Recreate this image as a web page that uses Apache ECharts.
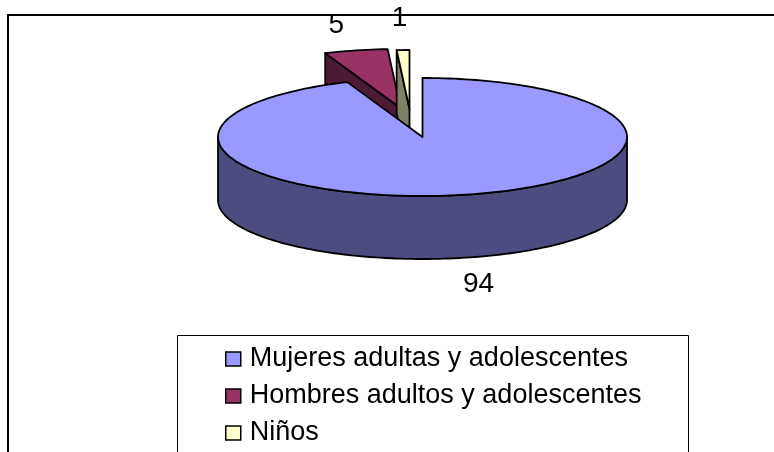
<!DOCTYPE html>
<html><head><meta charset="utf-8">
<script src="https://cdn.jsdelivr.net/npm/echarts@6/dist/echarts.min.js"></script>
<style>html,body{margin:0;padding:0;background:#fff}#c{width:774px;height:452px}</style>
</head><body><div id="c"></div>
<script>
// ---- data ----
const categories = ['Mujeres adultas y adolescentes', 'Hombres adultos y adolescentes', 'Niños'];
const values = [94, 5, 1];

// ---- style ----
const topColors = ['#9999FF', '#993366', '#FFFFCC'];
const sideColors = ['#4C4C80', '#4D1A33', '#808066'];
const explode = [[0, 0], [-22, -29], [-13, -28]];
const zOrder = [3, 1, 2];
const PIE = { cx: 422.5, cy: 137, rx: 204.5, ry: 59, depth: 63, labelGap: 32 };
const FONT = '"Liberation Sans", Arial, sans-serif';

const total = values.reduce((a, b) => a + b, 0);
function startAngle(i) { let s = 0; for (let k = 0; k < i; k++) s += values[k]; return s / total * 360; }
function pt(theta, ox, oy, dy) {
  const r = theta * Math.PI / 180;
  return [PIE.cx + ox + PIE.rx * Math.sin(r), PIE.cy + oy - PIE.ry * Math.cos(r) + (dy || 0)];
}
function arc(a, b, ox, oy, dy) {
  const n = Math.max(2, Math.ceil(Math.abs(b - a) / 1.5));
  const pts = [];
  for (let i = 0; i <= n; i++) pts.push(pt(a + (b - a) * i / n, ox, oy, dy));
  return pts;
}

function renderItem(params, api) {
  const i = params.seriesIndex;
  const v = api.value(0);
  const a0 = startAngle(i);
  const a1 = a0 + v / total * 360;
  const [ox, oy] = explode[i];
  const D = PIE.depth;
  const c = [PIE.cx + ox, PIE.cy + oy];
  const stroke = { stroke: '#000', lineWidth: 1.8, lineJoin: 'round' };
  const children = [];
  // start radial face
  if (Math.sin(a0 * Math.PI / 180) < -1e-6) {
    const p = pt(a0, ox, oy);
    children.push({ type: 'polygon', shape: { points: [c, p, [p[0], p[1] + D], [c[0], c[1] + D]] },
      style: Object.assign({ fill: sideColors[i] }, stroke) });
  }
  // end radial face
  if (Math.sin(a1 * Math.PI / 180) > 1e-6) {
    const p = pt(a1, ox, oy);
    children.push({ type: 'polygon', shape: { points: [c, p, [p[0], p[1] + D], [c[0], c[1] + D]] },
      style: Object.assign({ fill: sideColors[i] }, stroke) });
  }
  // front outer wall
  const w0 = Math.max(a0, 90), w1 = Math.min(a1, 270);
  if (w1 > w0) {
    const top = arc(w0, w1, ox, oy, 0);
    const bot = arc(w1, w0, ox, oy, D);
    children.push({ type: 'polygon', shape: { points: top.concat(bot) },
      style: Object.assign({ fill: sideColors[i] }, stroke) });
  }
  // top face
  children.push({ type: 'polygon', shape: { points: [c].concat(arc(a0, a1, ox, oy, 0)) },
    style: Object.assign({ fill: topColors[i] }, stroke) });
  // value label
  const mid = (a0 + a1) / 2, mr = mid * Math.PI / 180;
  const dx = PIE.rx * Math.sin(mr), dy = -PIE.ry * Math.cos(mr);
  const len = Math.sqrt(dx * dx + dy * dy);
  const edge = pt(mid, ox, oy, Math.cos(mr) < 0 ? D : 0);
  children.push({ type: 'text', style: {
    text: String(v), x: edge[0] + dx / len * PIE.labelGap, y: edge[1] + dy / len * PIE.labelGap,
    font: '28px ' + FONT, fill: '#000', align: 'center', verticalAlign: 'middle',
    textAlign: 'center', textVerticalAlign: 'middle' } });
  return { type: 'group', children };
}

const chart = echarts.init(document.getElementById('c'), null, { renderer: 'canvas' });
chart.setOption({
  animation: false,
  backgroundColor: '#fff',
  graphic: [
    { type: 'rect', shape: { x: 8, y: 15, width: 900, height: 600 }, style: { fill: 'none', stroke: '#000', lineWidth: 2 }, z: 0 },
    { type: 'rect', shape: { x: 177.5, y: 335.5, width: 511, height: 200 }, style: { fill: 'none', stroke: '#000', lineWidth: 1 }, z: 0 }
  ],
  legend: {
    data: categories, orient: 'vertical', left: 225, top: 344, padding: 0,
    itemWidth: 15, itemHeight: 14, itemGap: 7, icon: 'rect', selectedMode: false,
    itemStyle: { borderColor: '#000', borderWidth: 1.5 },
    textStyle: { fontFamily: FONT, fontSize: 27, color: '#000', lineHeight: 30, padding: [0, 0, 0, 4] }
  },
  series: categories.map((name, i) => ({
    type: 'custom', name, coordinateSystem: 'none', z: zOrder[i],
    itemStyle: { color: topColors[i] },
    renderItem, data: [[values[i]]]
  }))
});
</script></body></html>
